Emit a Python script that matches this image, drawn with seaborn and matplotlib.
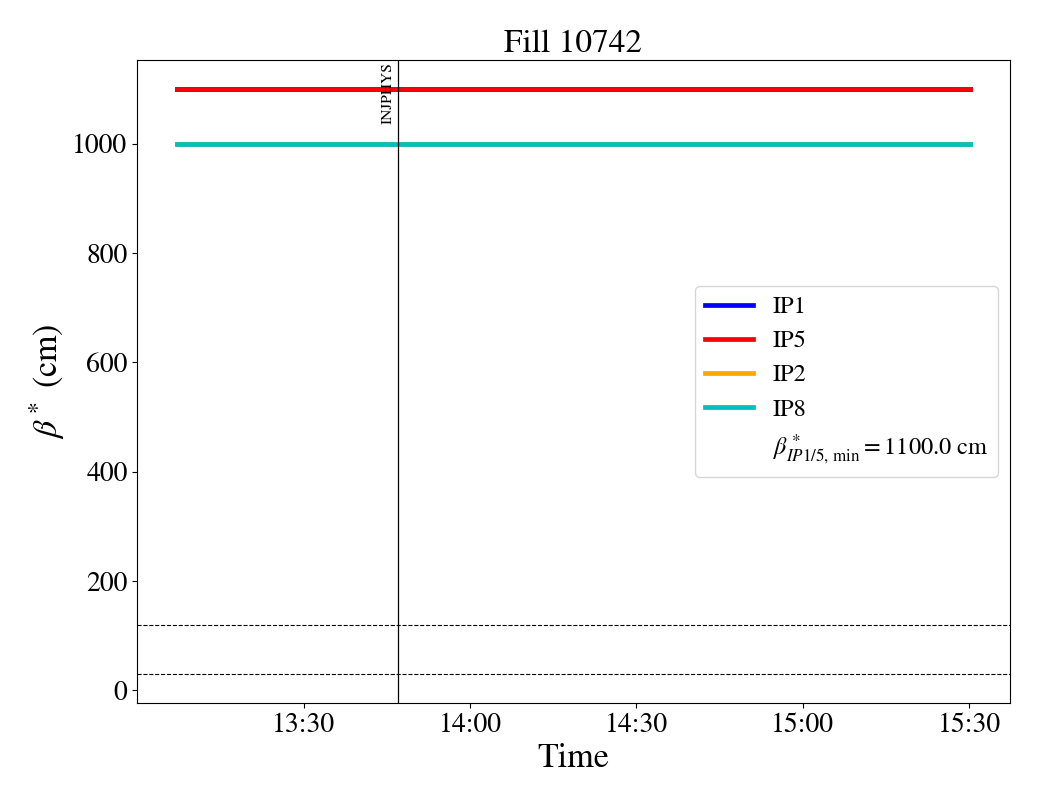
import numpy as np
import pandas as pd
import matplotlib
matplotlib.use("Agg")
import matplotlib.pyplot as plt
import matplotlib.dates as mdates
from matplotlib.lines import Line2D
import seaborn as sns

# ---- data ----
ips = ["IP1", "IP5", "IP2", "IP8"]
beta_values = [1100.0, 1100.0, 1000.0, 1000.0]
colors = ["#0000ff", "#ff0000", "#ffa500", "#00bfbf"]
times = ["2025-06-10 13:07:10", "2025-06-10 15:30:10"]
injphys_time = "2025-06-10 13:47:05"
ref_lines = [120.0, 30.0]
beta_min = 1100.0
title = "Fill 10742"

rows = []
for ip, b in zip(ips, beta_values):
    for t in times:
        rows.append({"time": pd.Timestamp(t), "beta": b, "ip": ip})
df = pd.DataFrame(rows)

plt.rcParams["font.family"] = "STIXGeneral"
plt.rcParams["mathtext.fontset"] = "stix"

fig = plt.figure(figsize=(10.4, 8), dpi=100)
ax = fig.add_axes([0.132, 0.121, 0.839, 0.804])

sns.lineplot(data=df, x="time", y="beta", hue="ip", hue_order=ips,
             palette=dict(zip(ips, colors)), linewidth=3.4, ax=ax, legend=False)

for y in ref_lines:
    ax.axhline(y, color="black", linestyle="--", linewidth=0.8)

tv = pd.Timestamp(injphys_time)
ax.axvline(tv, color="black", linewidth=0.9)
ax.text(tv - pd.Timedelta(minutes=0.6), 1150, "INJPHYS", rotation=90,
        ha="right", va="top", fontsize=11.2)

ax.xaxis.set_major_locator(mdates.MinuteLocator(byminute=[0, 30]))
ax.xaxis.set_major_formatter(mdates.DateFormatter("%H:%M"))
ax.tick_params(labelsize=20)
ax.set_xlabel("Time", fontsize=24.5)
ax.set_ylabel(r"$\beta^*$ (cm)", fontsize=24.5)
ax.set_title(title, fontsize=24)

handles = [Line2D([], [], color=c, lw=3.4) for c in colors]
handles.append(Line2D([], [], color="none"))
labels = ips + [r"$\beta^*_{IP1/5,\,\min} = %.1f$ cm" % beta_min]
ax.legend(handles, labels, loc="center right", fontsize=17.5)

fig.savefig("out.png", dpi=100)
